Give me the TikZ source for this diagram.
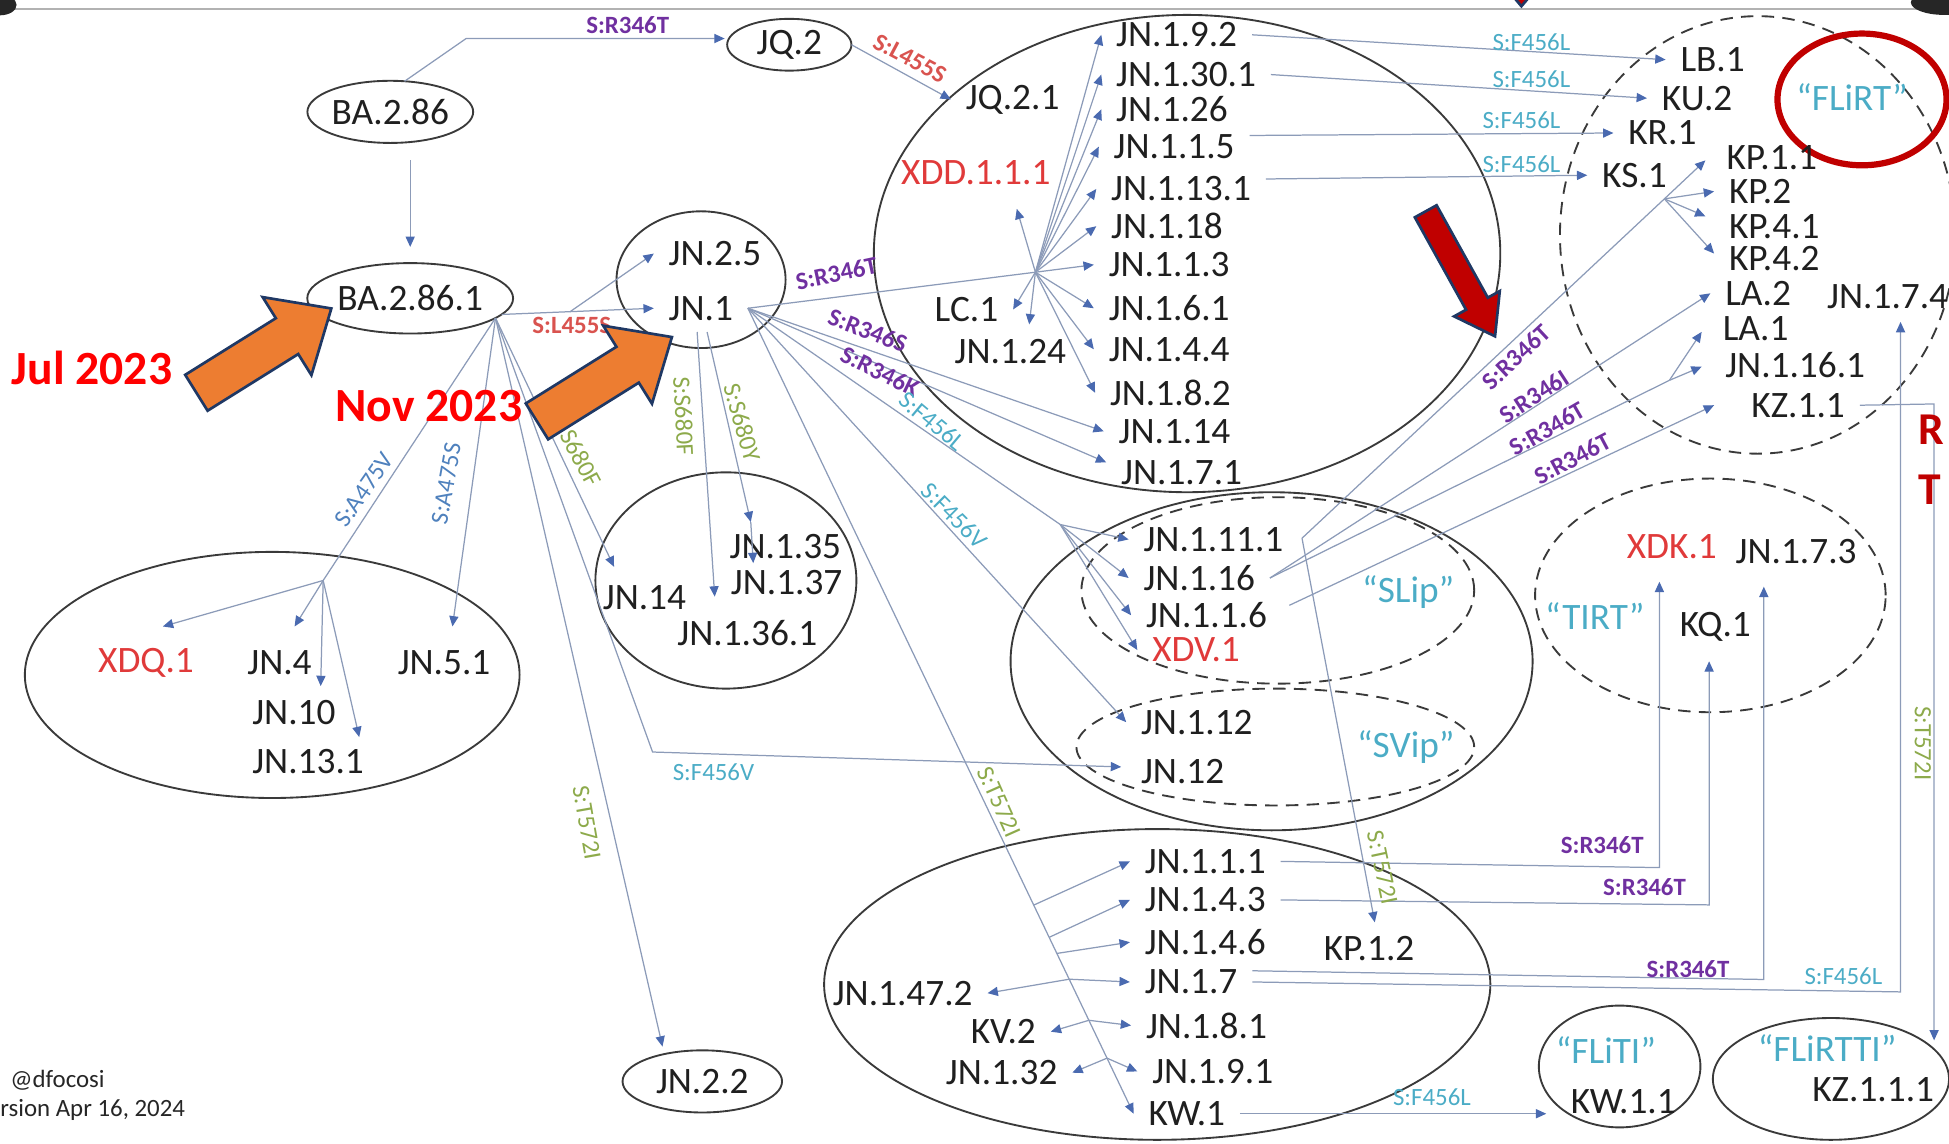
\documentclass[tikz,border=0pt]{standalone}
\usepackage{fontspec}
\setmainfont{Carlito}
\usetikzlibrary{shapes.geometric,arrows.meta,calc}
\definecolor{linec}{HTML}{8C9BB8}
\definecolor{tipc}{HTML}{4A6AB0}
\definecolor{grpc}{HTML}{3A3A3A}
\definecolor{redn}{HTML}{E03A3A}
\definecolor{grpl}{HTML}{4BACC6}
\definecolor{purp}{HTML}{7030A0}
\definecolor{lred}{HTML}{D9534F}
\definecolor{mblue}{HTML}{4F81BD}
\definecolor{lblue}{HTML}{4BACC6}
\definecolor{grn}{HTML}{8DAA4B}
\definecolor{orng}{HTML}{ED7D31}
\definecolor{navy}{HTML}{1F3864}
\definecolor{dred}{HTML}{C00000}
\begin{document}
\begin{tikzpicture}[x=0.6pt,y=-0.6pt,
  nt/.style={font=\fontsize{18}{20}\selectfont, text=black!88, inner xsep=7pt, inner ysep=0pt, anchor=west},
  nc/.style={font=\fontsize{18}{20}\selectfont, text=black!88, inner sep=0pt},
  ell/.style={draw=grpc, ellipse, line width=0.9pt, inner sep=0pt, outer sep=0pt},
  tell/.style={ell, font=\fontsize{18}{20}\selectfont, text=black!88},
  dell/.style={ell, dash pattern=on 6pt off 4pt},
  ln/.style={draw=linec, line width=0.6pt},
  ar/.style={ln, -{Triangle[length=5pt,width=4.4pt,color=tipc]}},
  elab/.style={font=\fontsize{12}{13}\selectfont, inner sep=0pt},
  pl/.style={elab, text=purp, font=\fontsize{12}{13}\selectfont\bfseries},
  rl/.style={elab, text=lred, font=\fontsize{12}{13}\selectfont\bfseries},
  bl/.style={elab, text=mblue},
  cl/.style={elab, text=lblue},
  gl/.style={elab, text=grn},
  grp/.style={font=\fontsize{18}{20}\selectfont, text=grpl, inner sep=0pt},
  barr/.style={fill=orng, draw=navy, line width=1.3pt, line join=miter},
]
\useasboundingbox (0,0) rectangle (1568,920);
\clip (0,0) rectangle (1568,920);

% frame bits
\draw[gray!60, line width=1pt] (0,7) -- (1568,7);
\fill[black!85] (0,4) ellipse [x radius=8pt, y radius=5pt];
\fill[black!85] (1564,2) ellipse [x radius=16pt, y radius=6pt];

% group ellipses
\node[ell, minimum width=302.4pt, minimum height=230.4pt] (gjn) at (955,204) {};
\node[ell, minimum width=252pt, minimum height=163.2pt] (gsl) at (1023,532) {};
\node[dell, minimum width=189.6pt, minimum height=90pt] (gslip) at (1028,475) {};
\node[dell, minimum width=192pt, minimum height=56.4pt] (gsvip) at (1026,601) {};
\node[ell, minimum width=321.6pt, minimum height=150pt] (gbot) at (931,792) {};
\node[dell, minimum width=190.8pt, minimum height=211.2pt] (gflirt) at (1414,189) {};
\node[dell, minimum width=169.2pt, minimum height=112.8pt] (gtirt) at (1376,479) {};
\node[ell, minimum width=78pt, minimum height=58.8pt] (fliti) at (1303,858) {};
\node[ell, minimum width=114pt, minimum height=58.8pt] (gflirtti) at (1473,868) {};
\node[ell, minimum width=238.8pt, minimum height=118.8pt] (gxdq) at (219,543) {};
\node[ell, minimum width=126pt, minimum height=104.4pt] (g135) at (584,467) {};
\node[ell, minimum width=81.6pt, minimum height=66pt] (gjn1) at (564,225) {};
\node[draw=dred, line width=3pt, ellipse, inner sep=0pt, minimum width=81.6pt, minimum height=63.6pt] (redc) at (1498,80) {};

% ellipse text nodes
\node[tell, minimum width=78pt, minimum height=30pt] (ba286) at (314,90) {BA.2.86};
\node[tell, minimum width=89pt, minimum height=34pt] (ba2861) at (330,240) {BA.2.86.1};
\node[tell, minimum width=60pt, minimum height=25pt] (jq2) at (635,36) {JQ.2};
\node[tell, minimum width=77pt, minimum height=30pt] (jn22) at (565,870) {JN.2.2};

% JN.1 big group
\node[nt] (jq21) at (765,80) {JQ.2.1};
\node[nt, text=redn] (xdd) at (713,139) {XDD.1.1.1};
\node[nt] (lc1) at (740,249) {LC.1};
\node[nt] (jn124) at (756,283) {JN.1.24};
\node[nt] (jn192) at (886,28) {JN.1.9.2};
\node[nt] (jn1301) at (886,60) {JN.1.30.1};
\node[nt] (jn126) at (886,88) {JN.1.26};
\node[nt] (jn115) at (884,118) {JN.1.1.5};
\node[nt] (jn1131) at (882,152) {JN.1.13.1};
\node[nt] (jn118) at (882,182) {JN.1.18};
\node[nt] (jn113) at (880,213) {JN.1.1.3};
\node[nt] (jn161) at (880,248) {JN.1.6.1};
\node[nt] (jn144) at (880,281) {JN.1.4.4};
\node[nt] (jn182) at (881,316) {JN.1.8.2};
\node[nt] (jn114) at (888,347) {JN.1.14};
\node[nt] (jn171) at (890,380) {JN.1.7.1};
\node[nt] (jn25) at (526,204) {JN.2.5};
\node[nt] (jn1) at (526,248) {JN.1};

% FLiRT
\node[nt] (lb1) at (1340,48) {LB.1};
\node[nt] (ku2) at (1325,79) {KU.2};
\node[nt] (kr1) at (1298,107) {KR.1};
\node[nt] (ks1) at (1277,141) {KS.1};
\node[nt] (kp11) at (1377,127) {KP.1.1};
\node[nt] (kp2) at (1379,154) {KP.2};
\node[nt] (kp41) at (1379,182) {KP.4.1};
\node[nt] (kp42) at (1379,208) {KP.4.2};
\node[nt] (la2) at (1376,236) {LA.2};
\node[nt] (la1) at (1374,264) {LA.1};
\node[nt] (jn1161) at (1376,294) {JN.1.16.1};
\node[nt] (kz11) at (1397,326) {KZ.1.1};
\node[nt] (jn174) at (1458,239) {JN.1.7.4};
\node[grp] (flirt) at (1490,78) {“FLiRT”};

% SLip / SVip
\node[nt] (jn1111) at (908,434) {JN.1.11.1};
\node[nt] (jn116) at (908,465) {JN.1.16};
\node[nt] (jnaa6) at (910,495) {JN.1.1.6};
\node[nt, text=redn] (xdv1) at (915,523) {XDV.1};
\node[nt] (jn112) at (906,581) {JN.1.12};
\node[nt] (jn12) at (906,621) {JN.12};
\node[grp] (slip) at (1133,476) {“SLip”};
\node[grp] (svip) at (1131,601) {“SVip”};

% TIRT
\node[nc, text=redn] (xdk1) at (1345,440) {XDK.1};
\node[nc] (jn173) at (1445,444) {JN.1.7.3};
\node[nc] (kq1) at (1380,504) {KQ.1};
\node[grp] (tirt) at (1283,496) {“TIRT”};

% bottom group
\node[nt] (jn111) at (909,693) {JN.1.1.1};
\node[nt] (jn143) at (909,724) {JN.1.4.3};
\node[nt] (jn146) at (909,758) {JN.1.4.6};
\node[nt] (jn17) at (909,790) {JN.1.7};
\node[nt] (jn181) at (910,825) {JN.1.8.1};
\node[nt] (jn191) at (915,862) {JN.1.9.1};
\node[nt] (kw1) at (912,896) {KW.1};
\node[nt] (jn1472) at (658,799) {JN.1.47.2};
\node[nt] (kv2) at (769,830) {KV.2};
\node[nt] (jn132) at (749,863) {JN.1.32};
\node[nt] (kp12) at (1053,763) {KP.1.2};

% FLiTI / FLiRTTI
\node[grp] (flitil) at (1292,845) {“FLiTI”};
\node[nc] (kw11) at (1306,886) {KW.1.1};
\node[grp] (flirttil) at (1470,843) {“FLiRTTI”};
\node[nc] (kz111) at (1507,877) {KZ.1.1.1};

% left groups
\node[nt, text=redn] (xdq1) at (67,533) {XDQ.1};
\node[nt] (jn4) at (187,533) {JN.4};
\node[nt] (jn51) at (308,533) {JN.5.1};
\node[nt] (jn10) at (191,573) {JN.10};
\node[nt] (jn131) at (191,613) {JN.13.1};
\node[nt] (jn14) at (473,481) {JN.14};
\node[nt] (jn135) at (575,440) {JN.1.35};
\node[nt] (jn137) at (576,469) {JN.1.37};
\node[nt] (jn1361) at (533,509) {JN.1.36.1};

% ---------------- connectors
\coordinate (c1) at (375,31);
\draw[ar] (ba286.65) -- (c1) -- ($(jq2.west)+(-2,-5)$);
\draw[ar] ($(ba2861.north |- ba286.south)+(0,14)$) -- ($(ba2861.north)+(0,-13)$);

\draw[ar] (ba2861.-10) -- (jn1.west);
\coordinate (b1) at ($(ba2861.-10)!0.45!(jn1.west)$);
\draw[ar] (b1) -- (jn25.west);

\coordinate (bf) at (ba2861.-13);
\coordinate (xq) at (260,467);
\draw[ln] (bf) -- (xq);
\draw[ar] (xq) -- ($(xdq1.west)+(64,-29)$);
\draw[ar] (xq) -- ($(jn4.west)+(50,-29)$);
\draw[ar] (xq) -- ($(jn10.west)+(67,-21)$);
\draw[ar] (xq) -- ($(jn131.west)+(98,-20)$);
\draw[ar] (bf) -- ($(jn51.west)+(56,-29)$);
\draw[ar] (bf) -- ($(jn14.west)+(21,-25)$);
\coordinate (fv) at (525,605);
\draw[ar] (bf) -- (fv) -- ($(jn12.west)+(-4,-4)$);
\draw[ar] (bf) -- ($(jn22.north)+(-32,-3)$);

\coordinate (hub) at (833,219);
\draw[ln] (jn1.east) -- (hub);
\foreach \n in {jn192,jn1301,jn126,jn115,jn1131,jn118,jn113,jn161,jn144,jn182}
  \draw[ar] (hub) -- (\n.west);
\draw[ar] (hub) -- ($(xdd.west)+(105,29)$);
\draw[ar] (hub) -- (lc1.east);
\draw[ar] (hub) -- ($(jn124.west)+(72,-22)$);

\draw[ar] (jn1.east) -- (jn114.west);
\draw[ar] (jn1.east) -- ($(jn171.west)+(0,-8)$);
\coordinate (fl) at (853,422);
\draw[ln] (jn1.east) -- (fl);
\draw[ar] (fl) -- (jn1111.west);
\draw[ar] (fl) -- (jn116.west);
\draw[ar] (fl) -- (jnaa6.west);
\draw[ar] (fl) -- (xdv1.west);
\draw[ar] (jn1.east) -- (jn112.west);
\draw[ar] (jn1.east) -- (kw1.west);
\coordinate (p1) at ($(jn1.east)!0.741!(kw1.west)$);
\coordinate (p2) at ($(jn1.east)!0.781!(kw1.west)$);
\coordinate (p3) at ($(jn1.east)!0.801!(kw1.west)$);
\coordinate (p4) at ($(jn1.east)!0.833!(kw1.west)$);
\coordinate (p5) at ($(jn1.east)!0.884!(kw1.west)$);
\coordinate (p6) at ($(jn1.east)!0.931!(kw1.west)$);
\draw[ar] (p1) -- (jn111.west);
\draw[ar] (p2) -- (jn143.west);
\draw[ar] (p3) -- (jn146.west);
\draw[ar] (p4) -- (jn17.west);
\draw[ar] (p4) -- (jn1472.east);
\draw[ar] (p5) -- (jn181.west);
\draw[ar] (p5) -- (kv2.east);
\draw[ar] (p6) -- (jn191.west);
\draw[ar] (p6) -- (jn132.east);
\draw[ar] ($(jn1.south)+(-3,9)$) -- ($(jn1361.west)+(42,-29)$);
\draw[ar] ($(jn1.south)+(5,9)$) -- ($(jn135.west)+(29,-20)$);
\draw[ar] ($(jn135.west)+(29,-20)$) -- ($(jn137.west)+(30,-16)$);

\draw[ar] (jq2.east) -- (jq21.west);

\draw[ar] (jn192.east) -- (lb1.west);
\draw[ar] (jn1301.east) -- (ku2.west);
\draw[ar] ($(jn115.east)+(0,-9)$) -- (kr1.west);
\draw[ar] ($(jn1131.east)+(0,-8)$) -- (ks1.west);

\coordinate (vtx) at ($(jn1111.east)+(3,-1)$);
\coordinate (kph) at (1339,160);
\draw[ln] (vtx) -- (kph);
\draw[ar] (kph) -- ($(kp11.west)+(-5,2)$);
\draw[ar] (kph) -- (kp2.west);
\draw[ar] (kph) -- ($(kp41.west)+(-7,-8)$);
\draw[ar] (kph) -- ($(kp42.west)+(0,-4)$);
\draw[ar] (vtx) -- ($(kp12.west)+(53,-21)$);
\draw[ar] (jn116.east) -- (la2.west);
\coordinate (lab1) at (1343,306);
\draw[ln] (jn116.east) -- (lab1);
\draw[ar] (lab1) -- ($(la1.west)+(-5,3)$);
\draw[ar] (lab1) -- ($(jn1161.west)+(-7,1)$);
\draw[ar] ($(jnaa6.east)+(6,-8)$) -- ($(kz11.west)+(-18,0)$);

\draw[ar] (jn111.east) -- ($(xdk1)+(-10,258)$) -- ($(xdk1)+(-10,28)$);
\draw[ar] (jn143.east) -- ($(kq1)+(-5,224)$) -- ($(kq1)+(-5,28)$);
\draw[ar] ($(jn17.east)+(0,-9)$) -- ($(jn173)+(-26,344)$) -- ($(jn173)+(-26,28)$);
\draw[ar] (jn17.east) -- ($(jn174.west)+(71,559)$) -- ($(jn174.west)+(71,20)$);
\draw[ar] (kz11.east) -- ($(kz111)+(49,-552)$) -- ($(kz111)+(49,-40)$);
\draw[ar] (kw1.east) -- ($(fliti.west)+(6,38)$);

% ---------------- edge labels
\node[pl] (l01) at (505,20) {S:R346T};
\node[rl, rotate=-28] (l02) at (732,47) {S:L455S};
\node[rl] (l03) at (460,262) {S:L455S};
\node[pl, rotate=12] (l04) at (673,220) {S:R346T};
\node[pl, rotate=-21] (l05) at (698,266) {S:R346S};
\node[pl, rotate=-26] (l06) at (708,299) {S:R346K};
\node[cl, rotate=-40] (l07) at (750,339) {S:F456L};
\node[cl, rotate=-45] (l08) at (768,415) {S:F456V};
\node[gl, rotate=-66] (l09) at (804,645) {S:T572I};
\node[gl, rotate=-87] (l10) at (550,335) {S:S680F};
\node[gl, rotate=-74] (l11) at (597,340) {S:S680Y};
\node[gl, rotate=-62] (l12) at (464,362) {S:S680F};
\node[bl, rotate=55] (l13) at (293,394) {S:A475V};
\node[bl, rotate=80] (l14) at (359,389) {S:A475S};
\node[cl] (l15) at (574,621) {S:F456V};
\node[gl, rotate=-80] (l16) at (472,662) {S:T572I};
\node[cl] (l17) at (1232,34) {S:F456L};
\node[cl] (l18) at (1232,64) {S:F456L};
\node[cl] (l19) at (1224,97) {S:F456L};
\node[cl] (l20) at (1224,132) {S:F456L};
\node[pl, rotate=43] (l21) at (1220,287) {S:R346T};
\node[pl, rotate=33] (l22) at (1234,319) {S:R346I};
\node[pl, rotate=30] (l23) at (1245,345) {S:R346T};
\node[pl, rotate=28] (l24) at (1265,369) {S:R346T};
\node[gl, rotate=-78] (l25) at (1112,698) {S:T572I};
\node[pl] (l26) at (1289,680) {S:R346T};
\node[pl] (l27) at (1323,714) {S:R346T};
\node[pl] (l28) at (1358,780) {S:R346T};
\node[cl] (l29) at (1483,785) {S:F456L};
\node[gl, rotate=-90] (l30) at (1547,598) {S:T572I};
\node[cl] (l31) at (1152,883) {S:F456L};

% ---------------- misc text
\node[elab, anchor=west, text=black!85] (sig) at (8,869) {@dfocosi};
\node[elab, anchor=west, text=black!85] (ver) at (0,893) {rsion Apr 16, 2024};
\node[font=\fontsize{23}{26}\selectfont\bfseries, text=red, inner sep=0pt] (jul) at (74,296) {Jul 2023};
\node[font=\fontsize{23}{26}\selectfont\bfseries, text=red, inner sep=0pt] (nov) at (345,327) {Nov 2023};
\node[font=\fontsize{22}{24}\selectfont\bfseries, text=dred, anchor=west, inner sep=0pt] (rr) at (1543,346) {R};
\node[font=\fontsize{22}{24}\selectfont\bfseries, text=dred, anchor=west, inner sep=0pt] (tt) at (1543,394) {T};

% ---------------- block arrows
\begin{scope}[shift={(158,316)}, rotate=32]
  \draw[barr] (0,-17) -- (86,-17) -- (86,-37) -- (128,0) -- (86,37) -- (86,17) -- (0,17) -- cycle;
\end{scope}
\begin{scope}[shift={(432,339)}, rotate=32]
  \draw[barr] (0,-17) -- (86,-17) -- (86,-37) -- (128,0) -- (86,37) -- (86,17) -- (0,17) -- cycle;
\end{scope}
\begin{scope}[shift={(1147,170)}, rotate=-61]
  \draw[barr, fill=dred] (0,-10) -- (85,-10) -- (85,-21) -- (115,0) -- (85,21) -- (85,10) -- (0,10) -- cycle;
\end{scope}
\draw[barr, fill=dred] (1213,-8) -- (1235,-8) -- (1224,5) -- cycle;
\end{tikzpicture}
\end{document}
